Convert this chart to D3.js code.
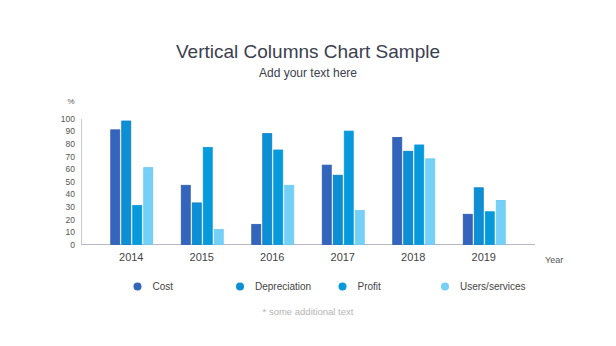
<!DOCTYPE html>
<html><head><meta charset="utf-8">
<script src="https://cdn.jsdelivr.net/npm/d3@7"></script>
<style>body{margin:0;background:#fff;}svg{display:block;font-family:"Liberation Sans",Arial,sans-serif;}</style>
</head><body>
<svg id="c" width="616" height="346"></svg>
<script>
const years = ["2014","2015","2016","2017","2018","2019"];
const seriesNames = ["Cost","Depreciation","Profit","Users/services"];
const cost = [91, 47, 16, 63, 85, 24];
const depreciation = [98, 33, 88, 55, 74, 45];
const profit = [31, 77, 75, 90, 79, 26];
const users = [61, 12, 47, 27, 68, 35];
const yTicks = [0,10,20,30,40,50,60,70,80,90,100];
const colors = ["#3465bd","#0d8fd6","#069adc","#74d0f6"];
const strokes = ["#2f5cae","#0a7cc2","#069adc","#6cc9f0"];

const values = [cost, depreciation, profit, users];
const svg = d3.select("#c");

svg.append("text").attr("x",308).attr("y",58).attr("text-anchor","middle")
  .attr("font-size",19).attr("fill","#3b4050").text("Vertical Columns Chart Sample");
svg.append("text").attr("x",308).attr("y",77).attr("text-anchor","middle")
  .attr("font-size",12).attr("fill","#3b4050").text("Add your text here");

const x = d3.scaleBand().domain(years).range([96,519]).paddingInner(0).paddingOuter(0);
const xs = d3.scaleBand().domain(seriesNames).range([-20.5,21.5]).paddingInner(0.18).paddingOuter(0);
const y = d3.scaleLinear().domain([0,100]).range([244.5,118.5]);

// y axis
const yAxis = d3.axisLeft(y).tickValues(yTicks).tickSize(0).tickPadding(6);
const gy = svg.append("g").attr("transform","translate(81,0)").call(yAxis);
gy.select(".domain").attr("stroke","#c8c8d0");
gy.selectAll("text").attr("font-size",8.5).attr("fill","#555").attr("font-family","Liberation Sans, Arial, sans-serif");
svg.append("text").attr("x",71).attr("y",104).attr("text-anchor","middle").attr("font-size",8).attr("fill","#555").text("%");

// x axis
const gx = svg.append("g").attr("transform","translate(0,244.5)").call(d3.axisBottom(x).tickSize(0).tickPadding(9));
gx.select(".domain").remove();
gx.selectAll("text").attr("font-size",11).attr("fill","#444").attr("font-family","Liberation Sans, Arial, sans-serif");
svg.append("line").attr("x1",81).attr("x2",535).attr("y1",244.5).attr("y2",244.5).attr("stroke","#b8b8c4").attr("stroke-width",1.2);
svg.append("text").attr("x",545).attr("y",263).attr("font-size",9).attr("fill","#555").text("Year");

// bars
years.forEach((yr,i)=>{
  const g = svg.append("g").attr("transform",`translate(${x(yr)+x.bandwidth()/2},0)`);
  seriesNames.forEach((s,j)=>{
    const v = values[j][i];
    g.append("rect").attr("x",xs(s)).attr("width",xs.bandwidth())
      .attr("y",y(v)).attr("height",y(0)-y(v))
      .attr("fill",colors[j]).attr("stroke",strokes[j]).attr("stroke-width",0.8);
  });
});

// legend
const legX = [137.5, 240, 342.5, 445];
seriesNames.forEach((s,j)=>{
  svg.append("circle").attr("cx",legX[j]).attr("cy",286.5).attr("r",4).attr("fill",colors[j]);
  svg.append("text").attr("x",legX[j]+15).attr("y",290).attr("font-size",10).attr("fill","#444").text(s);
});

svg.append("text").attr("x",308).attr("y",315).attr("text-anchor","middle")
  .attr("font-size",9.5).attr("fill","#b5b5b5").text("* some additional text");
</script>
</body></html>
